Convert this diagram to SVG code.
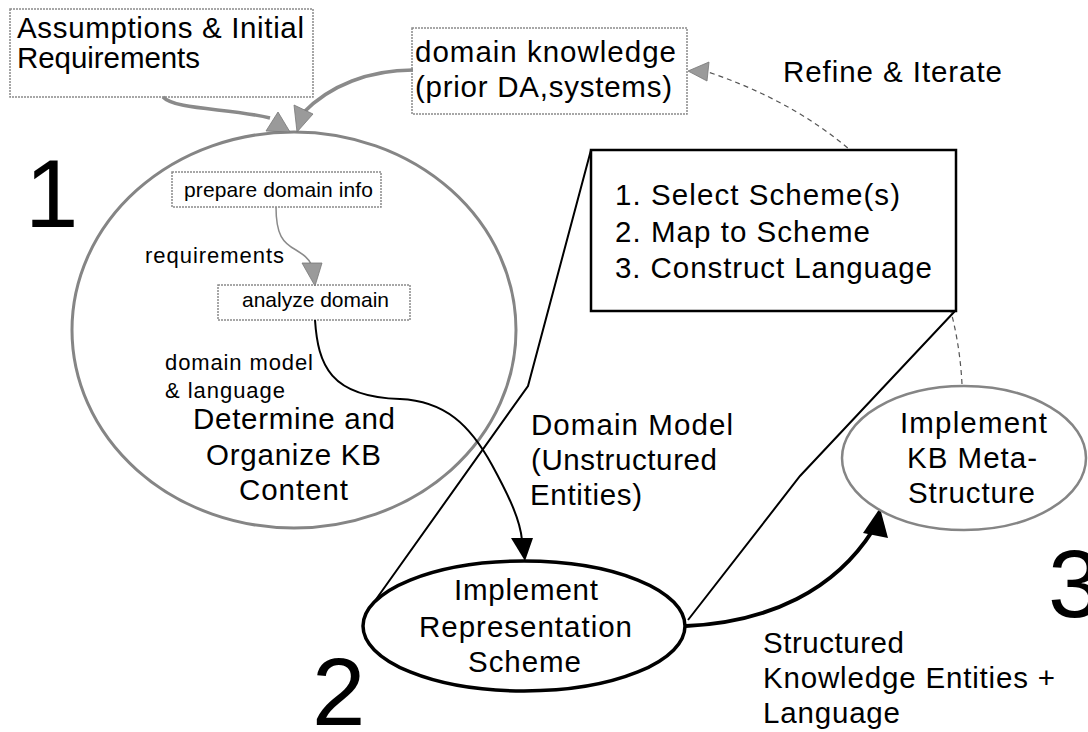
<svg xmlns="http://www.w3.org/2000/svg" width="1088" height="732" viewBox="0 0 1088 732" font-family="Liberation Sans, Arial, sans-serif">
<style>
text{font-family:'Liberation Sans', Arial, sans-serif;fill:#000}
.big{font-size:29.5px}
.sm{font-size:21px}
.num{font-size:96px}
.gbox{fill:#fff;stroke:#8a8a8a;stroke-width:1.5;stroke-dasharray:2 1}
.gline{fill:none;stroke:#8a8a8a;stroke-width:3.5}
.gthin{fill:none;stroke:#8a8a8a;stroke-width:1.5}
.ghead{fill:#9a9a9a;stroke:#777;stroke-width:0.8}
.bline{fill:none;stroke:#000;stroke-width:2}
</style>
<rect width="1088" height="732" fill="#fff"/>

<g id="n-determine">
<ellipse cx="294" cy="330" rx="222" ry="198" fill="none" stroke="#858585" stroke-width="3"/>
<text class="big" x="193" y="429" textLength="202" lengthAdjust="spacing">Determine and</text>
<text class="big" x="206" y="465" textLength="175" lengthAdjust="spacing">Organize KB</text>
<text class="big" x="239" y="500" textLength="109" lengthAdjust="spacing">Content</text>
</g>

<g id="n-assumptions">
<rect class="gbox" x="10" y="9" width="303" height="88"/>
<text class="big" x="17" y="38" textLength="287" lengthAdjust="spacing">Assumptions &amp; Initial</text>
<text class="big" x="17" y="68" textLength="183" lengthAdjust="spacing">Requirements</text>
</g>

<g id="n-domain-knowledge">
<rect class="gbox" x="412" y="28" width="275" height="86"/>
<text class="big" x="415" y="62" textLength="261" lengthAdjust="spacing">domain knowledge</text>
<text class="big" x="415" y="97" textLength="257" lengthAdjust="spacing">(prior DA,systems)</text>
</g>

<g id="n-prepare">
<rect class="gbox" x="172" y="172" width="209" height="35"/>
<text class="sm" x="184" y="197" textLength="189" lengthAdjust="spacing">prepare domain info</text>
</g>

<g id="n-analyze">
<rect class="gbox" x="218" y="285" width="192" height="35"/>
<text class="sm" x="242" y="307" textLength="147" lengthAdjust="spacing">analyze domain</text>
</g>

<g id="labels">
<text class="num" x="25" y="227">1</text>
<text class="num" x="312" y="725">2</text>
<text class="num" x="1048" y="617">3</text>
<text class="big" x="783" y="82" textLength="219" lengthAdjust="spacing">Refine &amp; Iterate</text>
<text style="font-size:22px" x="145" y="263" textLength="139" lengthAdjust="spacing">requirements</text>
<text style="font-size:22px" x="165" y="370" textLength="148" lengthAdjust="spacing">domain model</text>
<text style="font-size:22px" x="165" y="398" textLength="120" lengthAdjust="spacing">&amp; language</text>
<text class="big" x="531" y="435" textLength="202" lengthAdjust="spacing">Domain Model</text>
<text class="big" x="531" y="470" textLength="186" lengthAdjust="spacing">(Unstructured</text>
<text class="big" x="530" y="505" textLength="112" lengthAdjust="spacing">Entities)</text>
<text class="big" x="763" y="653" textLength="141" lengthAdjust="spacing">Structured</text>
<text class="big" x="763" y="688" textLength="292" lengthAdjust="spacing">Knowledge Entities +</text>
<text class="big" x="763" y="723" textLength="137" lengthAdjust="spacing">Language</text>
</g>

<g id="connectors">
<path class="gline" d="M163,97 C175,110 230,108 270,118"/>
<polygon class="ghead" points="278,112 266,131 290,132"/>
<path class="gline" d="M413,70 C370,70 330,85 303,113"/>
<polygon class="ghead" points="294,105 313,114 297,132"/>
<path class="gthin" d="M276,207 C276,235 283,243 296,250 C304,255 308,258 311,264"/>
<polygon class="ghead" points="302,263 322,263 315,286"/>
<path class="bline" d="M315,320 C318,365 330,397 400,399 C445,401 470,425 492,465 C510,498 520,520 522,540"/>
<polygon fill="#000" points="511,538 533,538 525,561"/>
<path fill="none" stroke="#555" stroke-width="1.2" stroke-dasharray="5 4" d="M962,384 C955,250 880,130 708,72"/>
<polygon class="ghead" points="688,71 709,62 707,81"/>
<polyline class="bline" points="591,150 528,386 372,605"/>
<polyline class="bline" points="955,311 800,476 688,620"/>
<path fill="none" stroke="#000" stroke-width="4" d="M686,626 C770,622 835,590 873,530"/>
<polygon fill="#000" points="880,508 863,533 888,538"/>
</g>

<g id="n-callout">
<rect x="591" y="150" width="365" height="161" fill="#fff" stroke="#000" stroke-width="2.5"/>
<text class="big" x="615" y="205" textLength="285" lengthAdjust="spacing">1. Select Scheme(s)</text>
<text class="big" x="615" y="242" textLength="255" lengthAdjust="spacing">2. Map to Scheme</text>
<text class="big" x="615" y="278" textLength="317" lengthAdjust="spacing">3. Construct Language</text>
</g>

<g id="n-representation">
<ellipse cx="524" cy="626" rx="161" ry="65" fill="#fff" stroke="#000" stroke-width="3.5"/>
<text class="big" x="454" y="600" textLength="144" lengthAdjust="spacing">Implement</text>
<text class="big" x="419" y="637" textLength="213" lengthAdjust="spacing">Representation</text>
<text class="big" x="468" y="672" textLength="113" lengthAdjust="spacing">Scheme</text>
</g>

<g id="n-metastructure">
<ellipse cx="964" cy="458" rx="122" ry="72" fill="#fff" stroke="#858585" stroke-width="2.5"/>
<text class="big" x="900" y="433" textLength="147" lengthAdjust="spacing">Implement</text>
<text class="big" x="907" y="468" textLength="130" lengthAdjust="spacing">KB Meta-</text>
<text class="big" x="908" y="503" textLength="127" lengthAdjust="spacing">Structure</text>
</g>
</svg>
